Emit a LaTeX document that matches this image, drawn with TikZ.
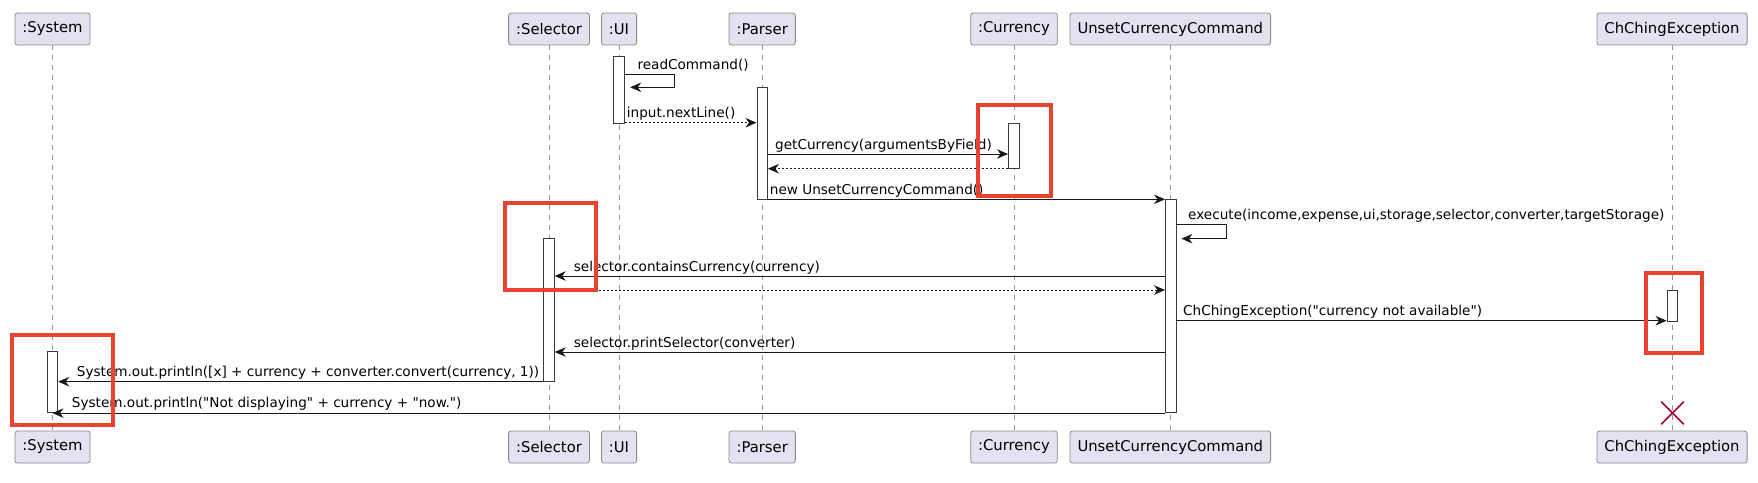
\documentclass[tikz,border=0pt]{standalone}
\usepackage{fontspec}
\setmainfont{DejaVu Sans}[Ligatures=TeXOff]
\usetikzlibrary{arrows.meta,positioning,shapes.misc}
\definecolor{umlfill}{HTML}{E2E2F0}
\definecolor{umlline}{HTML}{181818}
\definecolor{umlred}{HTML}{E8432E}
\definecolor{umlkill}{HTML}{A80036}

\begin{document}
\begin{tikzpicture}[x=1pt,y=-1pt,
part/.style={draw=umlline!50,fill=umlfill,rounded corners=2.5pt,minimum height=32pt,inner xsep=7.5pt,line width=0.8pt,font=\fontsize{14.8}{17}\selectfont},
act/.style={draw=umlline!85,fill=white,minimum width=10.5pt,inner sep=0pt,line width=0.9pt},
life/.style={draw=umlline!45,dash pattern=on 5pt off 5pt,line width=0.8pt},
msg/.style={draw=umlline,line width=1pt,-{Stealth[length=11pt,width=9.5pt,inset=3.5pt]}},
ret/.style={msg,dash pattern=on 2pt off 2pt},
lbl/.style={anchor=base west,inner sep=0pt,font=\fontsize{13.6}{16}\selectfont},
hilite/.style={draw=umlred,line width=4pt},
kill/.style={draw=umlkill,cross out,minimum size=21pt,line width=1.6pt}]
\useasboundingbox (0,0) rectangle (1758,482);

\node[part] (sys) at (52.5,29) {:System};
\node[part] (sel) at (549,29) {:Selector};
\node[part] (ui) at (619,29) {:UI};
\node[part] (par) at (762.2,29) {:Parser};
\node[part] (cur) at (1014,29) {:Currency};
\node[part] (cmd) at (1170.3,29) {UnsetCurrencyCommand};
\node[part] (exc) at (1672,29) {ChChingException};
\node[part] (sysB) at (52.5,447) {:System};
\node[part] (selB) at (549,447) {:Selector};
\node[part] (uiB) at (619,447) {:UI};
\node[part] (parB) at (762.2,447) {:Parser};
\node[part] (curB) at (1014,447) {:Currency};
\node[part] (cmdB) at (1170.3,447) {UnsetCurrencyCommand};
\node[part] (excB) at (1672,447) {ChChingException};

\path[life]
(sys) edge (sysB) (sel) edge (selB) (ui) edge (uiB) (par) edge (parB)
(cur) edge (curB) (cmd) edge (cmdB) (exc) edge (excB)
;

\node[act,minimum height=67pt] (uiA) at (619,89.5) {};
\node[act,minimum height=111.6pt] (parA) at (762.2,143.5) {};
\node[act,minimum height=45.4pt] (curA) at (1013.7,146) {};
\node[act,minimum height=213.4pt] (cmdA) at (1170.7,306) {};
\node[act,minimum height=143.4pt] (selA) at (549,310) {};
\node[act,minimum height=30.3pt] (excA) at (1672.3,305.8) {};
\node[act,minimum height=61.7pt] (sysA) at (52.5,381.8) {};
\node[kill] (excX) at (1672.5,413) {};

\draw[msg] (uiA.east |- 0,74) -- ++(49.5,0) -- ++(0,13.3) -- ++(-44,0);
\draw[ret] (uiA.east |- 0,122.7) -- (parA.west |- 0,122.7);
\draw[msg] (parA.east |- 0,154) -- (curA.west |- 0,154);
\draw[ret] (curA.west |- 0,168.7) -- (parA.east |- 0,168.7);
\draw[msg] (parA.east |- 0,199.3) -- (cmdA.west |- 0,199.3);
\draw[msg] (cmdA.east |- 0,224.7) -- ++(50,0) -- ++(0,14) -- ++(-45,0);
\draw[msg] (cmdA.west |- 0,276) -- (selA.east |- 0,276);
\draw[ret] (selA.east |- 0,290) -- (cmdA.west |- 0,290);
\draw[msg] (cmdA.east |- 0,320.7) -- (excA.west |- 0,320.7);
\draw[msg] (cmdA.west |- 0,352) -- (selA.east |- 0,352);
\draw[msg] (selA.west |- 0,381.7) -- (sysA.east |- 0,381.7);
\draw[msg] (cmdA.west |- sysA.south) -- (sysA.south);

\node[lbl] (t1) at (637.3,69) {readCommand()};
\node[lbl] (t2) at (626.7,117.7) {input.nextLine()};
\node[lbl] (t3) at (775,149) {getCurrency(argumentsByField)};
\node[lbl] (t4) at (769.7,194.3) {new UnsetCurrencyCommand()};
\node[lbl] (t5) at (1188,219.7) {execute(income,expense,ui,storage,selector,converter,targetStorage)};
\node[lbl] (t6) at (573.6,271) {selector.containsCurrency(currency)};
\node[lbl] (t7) at (1183,315.7) {ChChingException("currency not available")};
\node[lbl] (t8) at (573.6,347) {selector.printSelector(converter)};
\node[lbl] (t9) at (76.7,376.7) {System.out.println([x] + currency + converter.convert(currency, 1))};
\node[lbl] (t10) at (71.7,407.7) {System.out.println("Not displaying" + currency + "now.")};

\draw[hilite] (977.7,105.3) rectangle (1050.8,196.3);
\draw[hilite] (505,202.7) rectangle (596,290);
\draw[hilite] (1646,273) rectangle (1701.5,352.5);
\draw[hilite] (12,335) rectangle (113,425.3);
\end{tikzpicture}
\end{document}
